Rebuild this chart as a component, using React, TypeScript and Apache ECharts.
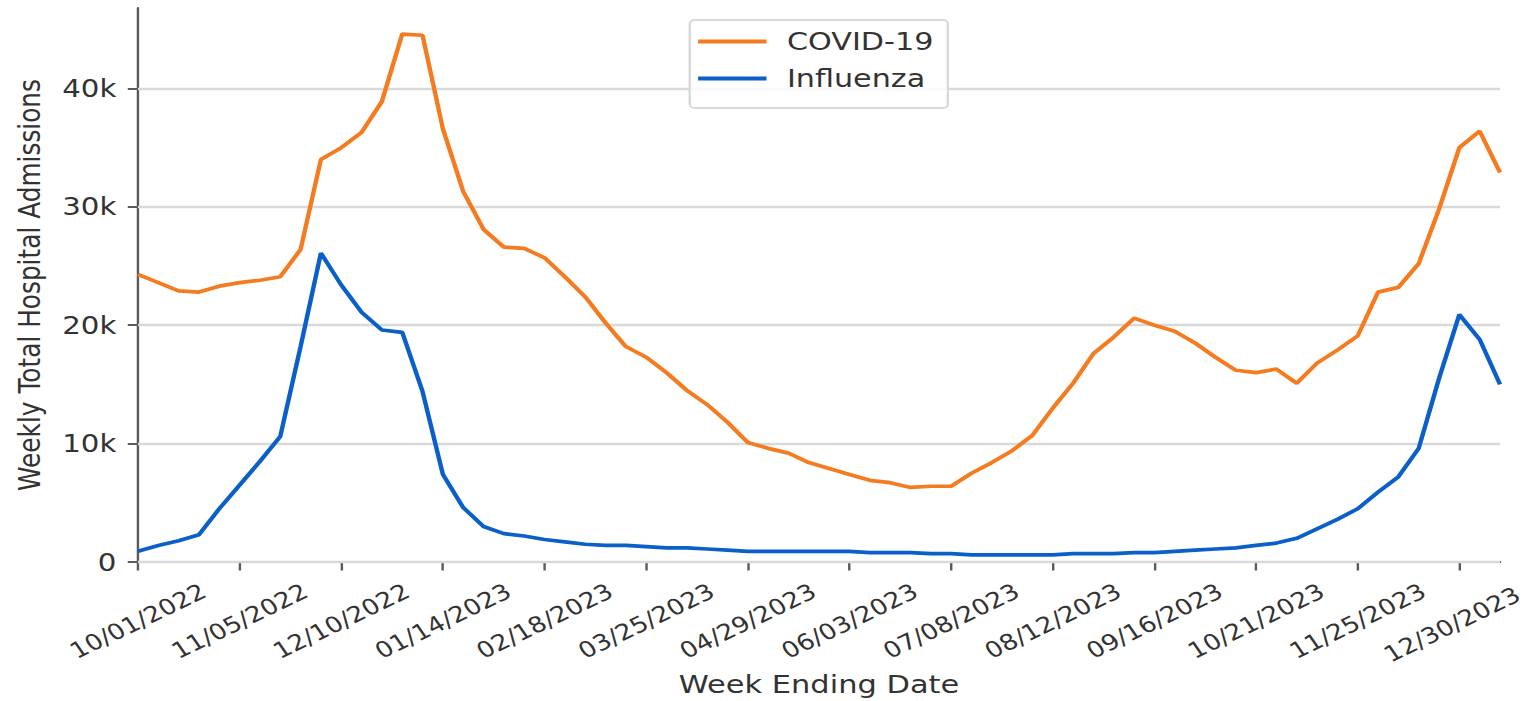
import React, { useEffect, useRef } from "react";
import * as echarts from "echarts";

const weekEnding = [
  "10/01/2022", "10/08/2022", "10/15/2022", "10/22/2022", "10/29/2022",
  "11/05/2022", "11/12/2022", "11/19/2022", "11/26/2022", "12/03/2022",
  "12/10/2022", "12/17/2022", "12/24/2022", "12/31/2022", "01/07/2023",
  "01/14/2023", "01/21/2023", "01/28/2023", "02/04/2023", "02/11/2023",
  "02/18/2023", "02/25/2023", "03/04/2023", "03/11/2023", "03/18/2023",
  "03/25/2023", "04/01/2023", "04/08/2023", "04/15/2023", "04/22/2023",
  "04/29/2023", "05/06/2023", "05/13/2023", "05/20/2023", "05/27/2023",
  "06/03/2023", "06/10/2023", "06/17/2023", "06/24/2023", "07/01/2023",
  "07/08/2023", "07/15/2023", "07/22/2023", "07/29/2023", "08/05/2023",
  "08/12/2023", "08/19/2023", "08/26/2023", "09/02/2023", "09/09/2023",
  "09/16/2023", "09/23/2023", "09/30/2023", "10/07/2023", "10/14/2023",
  "10/21/2023", "10/28/2023", "11/04/2023", "11/11/2023", "11/18/2023",
  "11/25/2023", "12/02/2023", "12/09/2023", "12/16/2023", "12/23/2023",
  "12/30/2023", "01/06/2024", "01/13/2024",
];

const covid19 = [
  24300, 23600, 22900, 22800, 23300, 23600, 23800, 24100, 26400, 34000,
  35000, 36300, 38900, 44600, 44500, 36600, 31300, 28100, 26600, 26500,
  25700, 24100, 22400, 20200, 18200, 17300, 16000, 14500, 13300, 11800,
  10100, 9600, 9200, 8400, 7900, 7400, 6900, 6700, 6300, 6400,
  6400, 7500, 8400, 9400, 10700, 13000, 15100, 17600, 19000, 20600,
  20000, 19500, 18500, 17300, 16200, 16000, 16300, 15100, 16800, 17900,
  19100, 22800, 23200, 25200, 29800, 35000, 36400, 32900,
];

const influenza = [
  900, 1400, 1800, 2300, 4500, 6500, 8500, 10600, 18200, 26100,
  23400, 21100, 19600, 19400, 14400, 7400, 4600, 3000, 2400, 2200,
  1900, 1700, 1500, 1400, 1400, 1300, 1200, 1200, 1100, 1000,
  900, 900, 900, 900, 900, 900, 800, 800, 800, 700,
  700, 600, 600, 600, 600, 600, 700, 700, 700, 800,
  800, 900, 1000, 1100, 1200, 1400, 1600, 2000, 2800, 3600,
  4500, 5900, 7200, 9600, 15500, 20900, 18800, 15000,
];

const yTicks = [0, 10000, 20000, 30000, 40000];
const yMax = 46800;

const STRETCH_W = 1273;
const SCALE_X = 1527 / STRETCH_W;

export default function App() {
  const ref = useRef<HTMLDivElement>(null);

  useEffect(() => {
    if (!ref.current) return;
    const chart = echarts.init(ref.current, undefined, { renderer: "svg" });
    const font = "DejaVu Sans";
    const textColor = "#333333";
    const spine = "#5a5a5a";
    const orange = "#f47b20";
    const blue = "#0b5fc9";
    const tickFont = 22;
    const lastLabelIndex = 65;

    chart.setOption({
      animation: false,
      color: [orange, blue],
      textStyle: { fontFamily: font },
      grid: {
        left: 115,
        right: 22.5,
        top: 8,
        bottom: 139,
        containLabel: false,
        outerBoundsMode: "none",
      },
      legend: {
        orient: "vertical",
        left: 575,
        top: 20,
        padding: [9, 12, 17, 7],
        itemWidth: 57,
        itemHeight: 4,
        itemGap: 12,
        icon: "rect",
        backgroundColor: "rgba(255,255,255,0.8)",
        borderColor: "#d9d9d9",
        borderWidth: 2,
        borderRadius: 4,
        textStyle: {
          fontFamily: font,
          fontSize: 25.2,
          color: textColor,
          padding: [0, 0, 0, 12],
        },
        data: ["COVID-19", "Influenza"],
      },
      xAxis: {
        type: "category",
        data: weekEnding,
        boundaryGap: false,
        name: "Week Ending Date",
        nameLocation: "middle",
        nameGap: 106,
        nameTextStyle: { fontFamily: font, fontSize: 25.4, color: textColor },
        axisLine: { show: true, lineStyle: { color: spine, width: 2 } },
        axisTick: { show: true, interval: 4, length: 8.5, lineStyle: { color: spine, width: 2 } },
        axisLabel: {
          interval: 4,
          rotate: 30,
          align: "center",
          verticalAlign: "middle",
          margin: 59,
          fontFamily: font,
          fontSize: tickFont,
          color: textColor,
          formatter: (v: string, i: number) => (i === lastLabelIndex ? `{edge|${v}}` : v),
          rich: {
            edge: {
              fontFamily: font,
              fontSize: tickFont,
              color: textColor,
              padding: [0, 14, 0, 0],
            },
          },
        },
        splitLine: { show: false },
      },
      yAxis: {
        type: "value",
        min: 0,
        max: yMax,
        name: "Weekly Total Hospital Admissions",
        nameLocation: "middle",
        nameGap: 78,
        nameTextStyle: { fontFamily: font, fontSize: 24.8, color: textColor },
        axisLine: { show: true, lineStyle: { color: spine, width: 2 } },
        axisTick: { show: true, customValues: yTicks, length: 8.5, lineStyle: { color: spine, width: 2 } },
        axisLabel: {
          customValues: yTicks,
          margin: 18,
          fontFamily: font,
          fontSize: 24.4,
          color: textColor,
          formatter: (v: number) => (v === 0 ? "0" : v / 1000 + "k"),
        },
        splitLine: { show: false },
      },
      series: [
        {
          name: "COVID-19",
          type: "line",
          data: covid19,
          symbol: "none",
          z: 3,
          itemStyle: { color: orange },
          lineStyle: { color: orange, width: 3.7 },
          markLine: {
            silent: true,
            symbol: "none",
            z: 1,
            animation: false,
            label: { show: false },
            lineStyle: { color: "#d9d9d9", width: 2.3, type: "solid" },
            emphasis: { disabled: true },
            data: yTicks.map((v) => ({ yAxis: v })),
          },
        },
        {
          name: "Influenza",
          type: "line",
          data: influenza,
          symbol: "none",
          z: 3,
          itemStyle: { color: blue },
          lineStyle: { color: blue, width: 3.7 },
        },
      ],
    });

    return () => {
      chart.dispose();
    };
  }, []);

  return (
    <div
      ref={ref}
      style={{
        position: "fixed",
        left: 0,
        top: 0,
        width: STRETCH_W + "px",
        height: "701px",
        transform: `scaleX(${SCALE_X})`,
        transformOrigin: "0 0",
        background: "#ffffff",
      }}
    />
  );
}
